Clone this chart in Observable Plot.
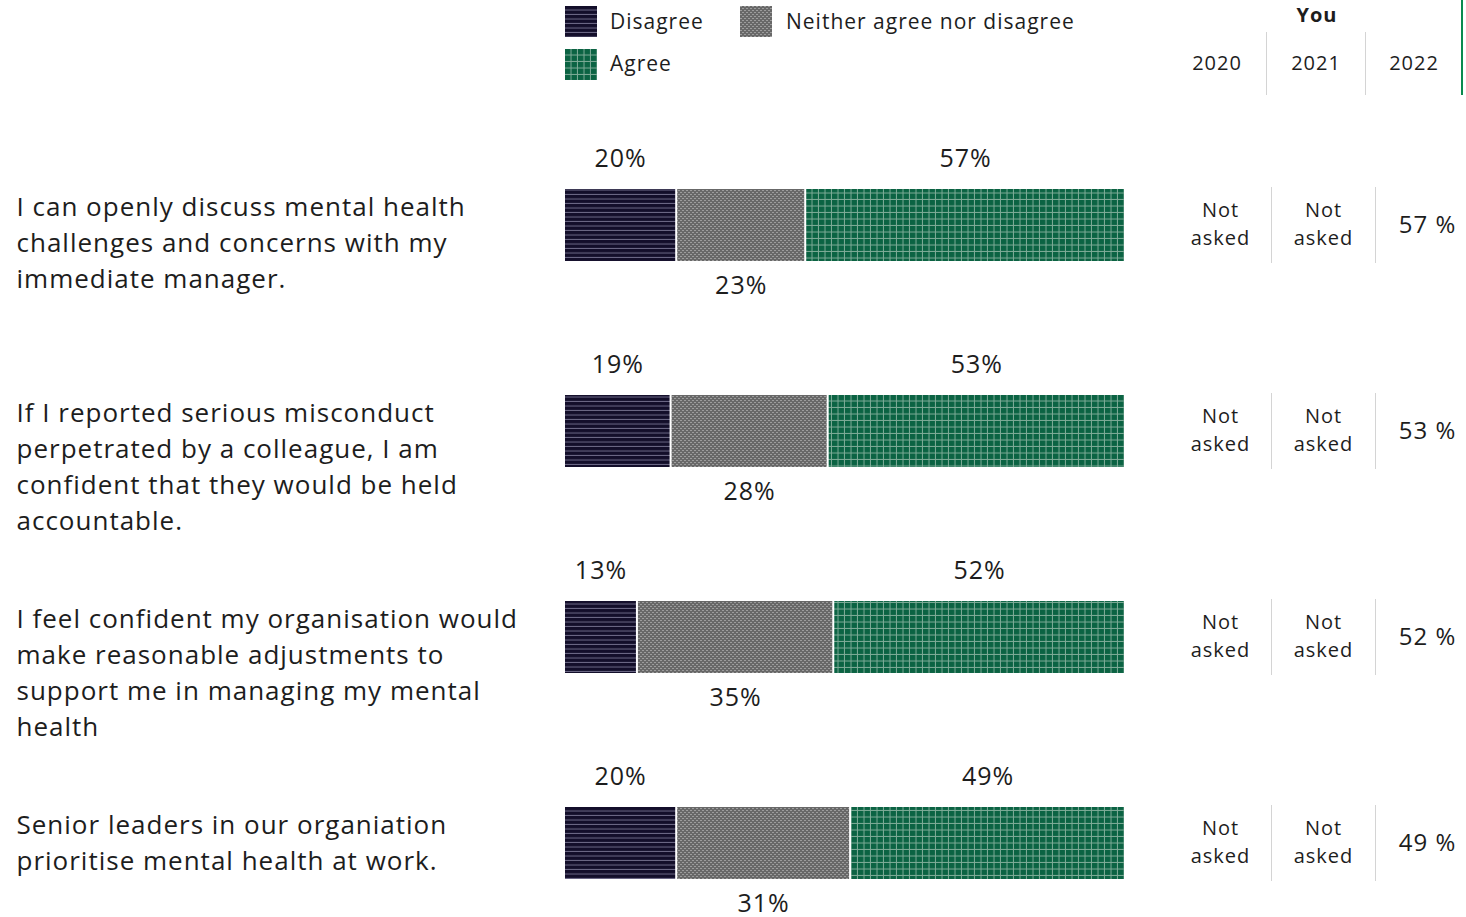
<!DOCTYPE html>
<html><head><meta charset="utf-8">
<script src="https://cdn.jsdelivr.net/npm/d3@7"></script>
<script src="https://cdn.jsdelivr.net/npm/@observablehq/plot@0.6"></script>
<style>
body{margin:0;background:#fff;font-family:"Open Sans",sans-serif;color:#1d1d1d;overflow:hidden}
#wrap{position:relative;width:1466px;height:917px}
#head{position:relative;height:96px;width:1466px}
.abs{position:absolute;white-space:nowrap;letter-spacing:1px}
.lg{font-size:21px;line-height:22px}
.yr{font-size:20px;line-height:20px;transform:translateX(-50%)}
#chart svg text{letter-spacing:1px}
</style></head><body>
<svg width="0" height="0" style="position:absolute"><defs>
<pattern id="pDis" patternUnits="userSpaceOnUse" width="8" height="4.5">
 <rect width="8" height="4.5" fill="#130e2a"/>
 <rect y="3.5" width="8" height="1" fill="#6e6a88"/>
</pattern>
<pattern id="pNei" patternUnits="userSpaceOnUse" width="4" height="4">
 <rect width="4" height="4" fill="#686868"/>
 <rect x="0" y="0" width="2" height="1" fill="#9c9c9c"/>
 <rect x="2" y="2" width="2" height="1" fill="#9c9c9c"/>
</pattern>
<pattern id="pAgr" patternUnits="userSpaceOnUse" width="6.5" height="6.5">
 <rect width="6.5" height="6.5" fill="#0b6343"/>
 <rect x="5.5" width="1" height="6.5" fill="#7eab97"/>
 <rect y="5.5" width="6.5" height="1" fill="#7eab97"/>
</pattern>
</defs></svg>
<div id="wrap"><div id="head"></div><div id="chart"></div></div>
<script>
const questions = [
  "I can openly discuss mental health\nchallenges and concerns with my\nimmediate manager.",
  "If I reported serious misconduct\nperpetrated by a colleague, I am\nconfident that they would be held\naccountable.",
  "I feel confident my organisation would\nmake reasonable adjustments to\nsupport me in managing my mental\nhealth",
  "Senior leaders in our organiation\nprioritise mental health at work."
];
const categories = ["Disagree", "Neither agree nor disagree", "Agree"];
const disagree = [20, 19, 13, 20];
const neither = [23, 28, 35, 31];
const agree = [57, 53, 52, 49];
const years = ["2020", "2021", "2022"];
const you2020 = [null, null, null, null];
const you2021 = [null, null, null, null];
const you2022 = [57, 53, 52, 49];
const patterns = ["url(#pDis)", "url(#pNei)", "url(#pAgr)"];

const rows = [];
questions.forEach((q, i) => {
  [disagree, neither, agree].forEach((arr, j) => rows.push({question: q, category: categories[j], value: arr[i]}));
});
const youCols = [you2020, you2021, you2022];
const fmtYou = v => v == null ? "Not\nasked" : v + " %";

// header (legend + table header)
const head = document.getElementById("head");
const sw = (x, y, fill) => `<svg class="abs" style="left:${x}px;top:${y}px" width="32" height="31"><rect width="32" height="31" fill="${fill}"/></svg>`;
head.innerHTML =
  sw(565, 6, patterns[0]) + `<div class="abs lg" style="left:610px;top:10px">${categories[0]}</div>` +
  sw(740, 6, patterns[1]) + `<div class="abs lg" style="left:786px;top:10px">${categories[1]}</div>` +
  sw(565, 49, patterns[2]) + `<div class="abs lg" style="left:610px;top:52px">${categories[2]}</div>` +
  `<div class="abs yr" style="left:1317px;top:5px;font-weight:700">You</div>` +
  `<div class="abs yr" style="left:1217px;top:53px">${years[0]}</div>` +
  `<div class="abs yr" style="left:1316px;top:53px">${years[1]}</div>` +
  `<div class="abs yr" style="left:1414px;top:53px">${years[2]}</div>` +
  `<div class="abs" style="left:1266px;top:32px;width:1px;height:63px;background:#d4d4d4"></div>` +
  `<div class="abs" style="left:1365px;top:32px;width:1px;height:63px;background:#d4d4d4"></div>` +
  `<div class="abs" style="left:1461px;top:0px;width:2px;height:95px;background:#0a8a4e"></div>`;

const colDx = [95, 198, 302];
const plot = Plot.plot({
  width: 1466,
  height: 821,
  marginLeft: 564,
  marginRight: 341,
  marginTop: 92,
  marginBottom: 37,
  style: {fontFamily: "'Open Sans', sans-serif", color: "#1d1d1d", background: "transparent"},
  x: {domain: [0, 100], axis: null},
  y: {domain: questions, axis: null, padding: 0.652, paddingOuter: 0},
  color: {domain: categories, range: patterns},
  marks: [
    Plot.barX(rows, Plot.stackX({x: "value", y: "question", fill: "category", insetLeft: 1, insetRight: 1})),
    Plot.text(rows, Plot.stackX({x: "value", y: "question",
      text: d => d.category !== categories[1] ? d.value + "%" : null, dy: -67, fontSize: 25, fill: "#1d1d1d"})),
    Plot.text(rows, Plot.stackX({x: "value", y: "question",
      text: d => d.category === categories[1] ? d.value + "%" : null, dy: 60, fontSize: 25, fill: "#1d1d1d"})),
    Plot.text(questions, {y: d => d, text: d => d, frameAnchor: "left", textAnchor: "start", lineAnchor: "top",
      dx: -548, dy: -35, fontSize: 26, lineHeight: 1.385, fill: "#1d1d1d"}),
    ...youCols.map((col, c) => Plot.text(questions, {y: d => d, text: (d, i) => fmtYou(col[i]),
      frameAnchor: "right", textAnchor: "middle", dx: colDx[c], dy: -3, fontSize: col.some(v => v != null) ? 24 : 20,
      lineHeight: 1.4, fill: "#1d1d1d"})),
    Plot.tickX(questions, {x: () => 100, y: d => d, dx: 146, stroke: "#d4d4d4", insetTop: -2, insetBottom: -2}),
    Plot.tickX(questions, {x: () => 100, y: d => d, dx: 250, stroke: "#d4d4d4", insetTop: -2, insetBottom: -2})
  ]
});
document.getElementById("chart").appendChild(plot);
</script>
</body></html>
